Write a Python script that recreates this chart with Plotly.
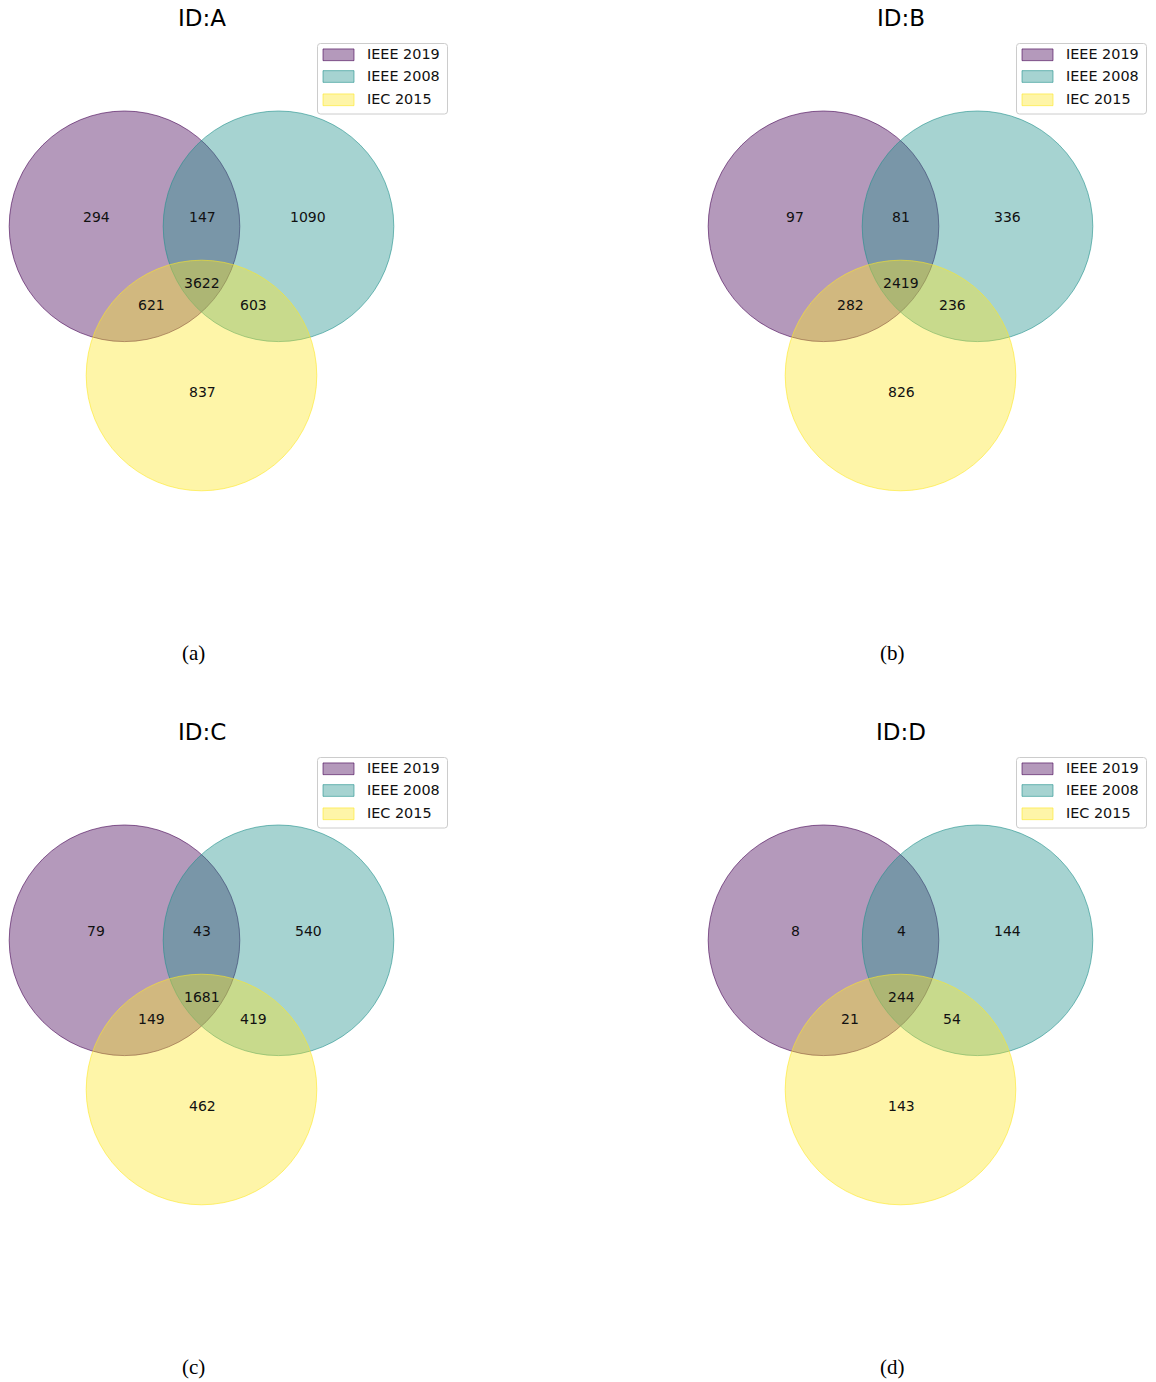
import plotly.graph_objects as go

# ---------------- data ----------------
panel_ids = ["A", "B", "C", "D"]
captions = ["(a)", "(b)", "(c)", "(d)"]
set_names = ["IEEE 2019", "IEEE 2008", "IEC 2015"]
set_colors = ["#440154", "#21918c", "#fde725"]
# region order: only-2019, only-2008, 2019&2008, only-IEC, 2019&IEC, 2008&IEC, all three
region_keys = ["100", "010", "110", "001", "101", "011", "111"]
counts_A = [294, 1090, 147, 837, 621, 603, 3622]
counts_B = [97, 336, 81, 826, 282, 236, 2419]
counts_C = [79, 540, 43, 462, 149, 419, 1681]
counts_D = [8, 144, 4, 143, 21, 54, 244]
all_counts = [counts_A, counts_B, counts_C, counts_D]

# ---------------- layout constants ----------------
W, H = 1156, 1382
panel_origin = [(0, 0), (699, 0), (0, 714), (699, 714)]
circle_centers = [(124.5, 226.3), (278.5, 226.3), (201.5, 375.5)]
R = 115.3
label_pos = {
    "100": (96, 216.8), "010": (308, 216.8), "110": (202, 216.8),
    "001": (202, 391.8), "101": (151, 304.8), "011": (253, 304.8),
    "111": (202, 282.6),
}
title_pos = (201.5, 17.5)
caption_pos = (193.5, 652.5)
leg_box = (317.5, 43.5, 447.5, 114.0)
leg_patch_x = (323, 354)
leg_rows_y = [54.8, 76.5, 99.8]
leg_patch_h = 11.7
leg_text_x = 364.5


def rgba(hexc, a):
    h = hexc.lstrip("#")
    r, g, b = int(h[0:2], 16), int(h[2:4], 16), int(h[4:6], 16)
    return f"rgba({r},{g},{b},{a})"


def rounded_rect(x0, y0, x1, y1, r):
    return (f"M {x0+r},{y0} L {x1-r},{y0} Q {x1},{y0} {x1},{y0+r} "
            f"L {x1},{y1-r} Q {x1},{y1} {x1-r},{y1} L {x0+r},{y1} "
            f"Q {x0},{y1} {x0},{y1-r} L {x0},{y0+r} Q {x0},{y0} {x0+r},{y0} Z")


fig = go.Figure()
# invisible trace to establish axes
fig.add_trace(go.Scatter(x=[0, W], y=[0, H], mode="markers",
                         marker=dict(opacity=0), hoverinfo="skip",
                         showlegend=False))

shapes = []
annotations = []
for p, (ox, oy) in enumerate(panel_origin):
    # circles
    for (cx, cy), col in zip(circle_centers, set_colors):
        shapes.append(dict(type="circle", xref="x", yref="y",
                           x0=ox + cx - R, x1=ox + cx + R,
                           y0=oy + cy - R, y1=oy + cy + R,
                           fillcolor=rgba(col, 0.4),
                           line=dict(color=rgba(col, 0.6), width=1)))
    # region counts
    for key, val in zip(region_keys, all_counts[p]):
        lx, ly = label_pos[key]
        annotations.append(dict(x=ox + lx, y=oy + ly, xref="x", yref="y",
                                text=str(val), showarrow=False,
                                xanchor="center", yanchor="middle",
                                font=dict(family="DejaVu Sans", size=14,
                                          color="#111111")))
    # title
    annotations.append(dict(x=ox + title_pos[0], y=oy + title_pos[1],
                            xref="x", yref="y", text=f"ID:{panel_ids[p]}",
                            showarrow=False, xanchor="center", yanchor="middle",
                            font=dict(family="DejaVu Sans", size=23,
                                      color="#000000")))
    # caption
    annotations.append(dict(x=ox + caption_pos[0], y=oy + caption_pos[1],
                            xref="x", yref="y", text=captions[p],
                            showarrow=False, xanchor="center", yanchor="middle",
                            font=dict(family="Liberation Serif", size=21,
                                      color="#000000")))
    # legend frame
    bx0, by0, bx1, by1 = leg_box
    shapes.append(dict(type="path", xref="x", yref="y",
                       path=rounded_rect(ox + bx0, oy + by0, ox + bx1, oy + by1, 3),
                       fillcolor="rgba(255,255,255,0.8)",
                       line=dict(color="rgba(204,204,204,1)", width=1)))
    for name, col, ry in zip(set_names, set_colors, leg_rows_y):
        shapes.append(dict(type="rect", xref="x", yref="y",
                           x0=ox + leg_patch_x[0], x1=ox + leg_patch_x[1],
                           y0=oy + ry - leg_patch_h / 2, y1=oy + ry + leg_patch_h / 2,
                           fillcolor=rgba(col, 0.4),
                           line=dict(color=rgba(col, 0.6), width=1)))
        annotations.append(dict(x=ox + leg_text_x, y=oy + ry - 0.8, xref="x", yref="y",
                                text=name, showarrow=False,
                                xanchor="left", yanchor="middle",
                                font=dict(family="DejaVu Sans", size=14.4,
                                          color="#111111")))

fig.update_layout(
    width=W, height=H,
    margin=dict(l=0, r=0, t=0, b=0),
    paper_bgcolor="white", plot_bgcolor="white",
    shapes=shapes, annotations=annotations,
    showlegend=False,
    xaxis=dict(range=[0, W], visible=False, fixedrange=True, domain=[0, 1]),
    yaxis=dict(range=[H, 0], visible=False, fixedrange=True, domain=[0, 1]),
)

fig.write_html("out.html", config={"displayModeBar": False})
